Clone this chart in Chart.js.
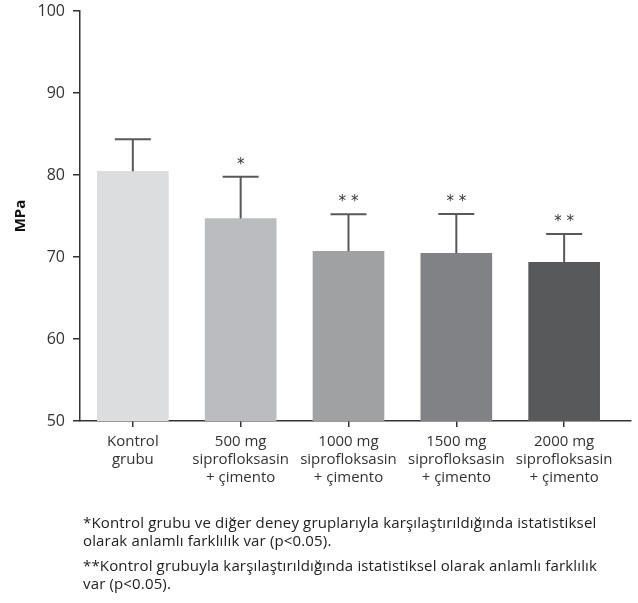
<!DOCTYPE html>
<html>
<head>
<meta charset="utf-8">
<script src="https://cdn.jsdelivr.net/npm/chart.js@4"></script>
<style>
  html, body { margin: 0; padding: 0; background: #fff; }
  #wrap { position: relative; width: 638px; height: 603px; }
  canvas { position: absolute; left: 0; top: 0; }
  .note { position: absolute; left: 83px; font-family: "Open Sans", sans-serif; font-size: 15px; letter-spacing: 0.15px; line-height: 18px; color: #222; white-space: nowrap; }
</style>
</head>
<body>
<div id="wrap">
  <canvas id="c" width="638" height="603"></canvas>
  <div class="note" style="top:513px">*Kontrol grubu ve diğer deney gruplarıyla karşılaştırıldığında istatistiksel<br>olarak anlamlı farklılık var (p&lt;0.05).</div>
  <div class="note" style="top:556px">**Kontrol grubuyla karşılaştırıldığında istatistiksel olarak anlamlı farklılık<br>var (p&lt;0.05).</div>
</div>
<script>
const categories = [
  ['Kontrol', 'grubu'],
  ['500 mg', 'siprofloksasin', '+ çimento'],
  ['1000 mg', 'siprofloksasin', '+ çimento'],
  ['1500 mg', 'siprofloksasin', '+ çimento'],
  ['2000 mg', 'siprofloksasin', '+ çimento']
];
const means = [80.45, 74.7, 70.7, 70.45, 69.35];
const errors = [3.9, 5.1, 4.5, 4.8, 3.45];
const marks = ['', '*', '* *', '* *', '* *'];
const barColors = ['#dcdddf', '#bbbcbf', '#a0a1a3', '#818285', '#58595b'];
const yTicks = [50, 60, 70, 80, 90, 100];

const errorPlugin = {
  id: 'errbars',
  afterDatasetsDraw(chart) {
    const ctx = chart.ctx;
    const meta = chart.getDatasetMeta(0);
    const ys = chart.scales.y;
    ctx.save();
    meta.data.forEach((bar, i) => {
      const x = bar.x;
      const top = ys.getPixelForValue(means[i]);
      const et = ys.getPixelForValue(means[i] + errors[i]);
      ctx.strokeStyle = '#58595b';
      ctx.lineWidth = 2;
      ctx.beginPath();
      ctx.moveTo(x, top);
      ctx.lineTo(x, et);
      ctx.moveTo(x - 18, et);
      ctx.lineTo(x + 18, et);
      ctx.stroke();
      if (marks[i]) {
        ctx.fillStyle = '#333';
        ctx.font = '15px "DejaVu Sans", sans-serif';
        ctx.textAlign = 'center';
        ctx.textBaseline = 'middle';
        ctx.fillText(marks[i], x, et - 12);
      }
    });
    ctx.restore();
  }
};

new Chart(document.getElementById('c'), {
  type: 'bar',
  data: {
    datasets: [{
      data: means.map((v, i) => ({ x: i, y: v })),
      backgroundColor: barColors,
      borderWidth: 0,
      barThickness: 71
    }]
  },
  options: {
    responsive: false,
    animation: false,
    layout: { padding: { left: 0, right: 7, top: 11, bottom: 0 } },
    plugins: { legend: { display: false }, tooltip: { enabled: false } },
    scales: {
      x: {
        type: 'linear',
        offset: false,
        min: -0.49,
        max: 4.62,
        afterBuildTicks(scale) { scale.ticks = categories.map((c, i) => ({ value: i })); },
        afterFit(scale) { scale.height = 182; scale.paddingLeft = 0; scale.paddingRight = 0; },
        ticks: {
          autoSkip: false,
          maxRotation: 0,
          padding: 6,
          color: '#333',
          font: { family: '"Open Sans", sans-serif', size: 15, lineHeight: 1.2 },
          callback: (v) => categories[v]
        },
        grid: { offset: false, drawOnChartArea: false, drawTicks: true, tickLength: 6, color: '#333', lineWidth: 1.5 },
        border: { display: true, color: '#333', width: 1.5 }
      },
      y: {
        min: 50,
        max: 100,
        afterBuildTicks(scale) { scale.ticks = yTicks.map(v => ({ value: v })); },
        afterFit(scale) { scale.width = 80; scale.paddingTop = 0; scale.paddingBottom = 0; },
        ticks: {
          padding: 8,
          color: '#333',
          font: { family: '"Open Sans", sans-serif', size: 16 }
        },
        title: {
          display: true,
          text: 'MPa',
          color: '#111',
          padding: { top: 12, bottom: 0 },
          font: { family: '"Open Sans", sans-serif', size: 15, weight: 'bold' }
        },
        grid: { drawOnChartArea: false, drawTicks: true, tickLength: 7, color: '#333', lineWidth: 1.5 },
        border: { display: true, color: '#333', width: 1.5 }
      }
    }
  },
  plugins: [errorPlugin]
});
</script>
</body>
</html>
